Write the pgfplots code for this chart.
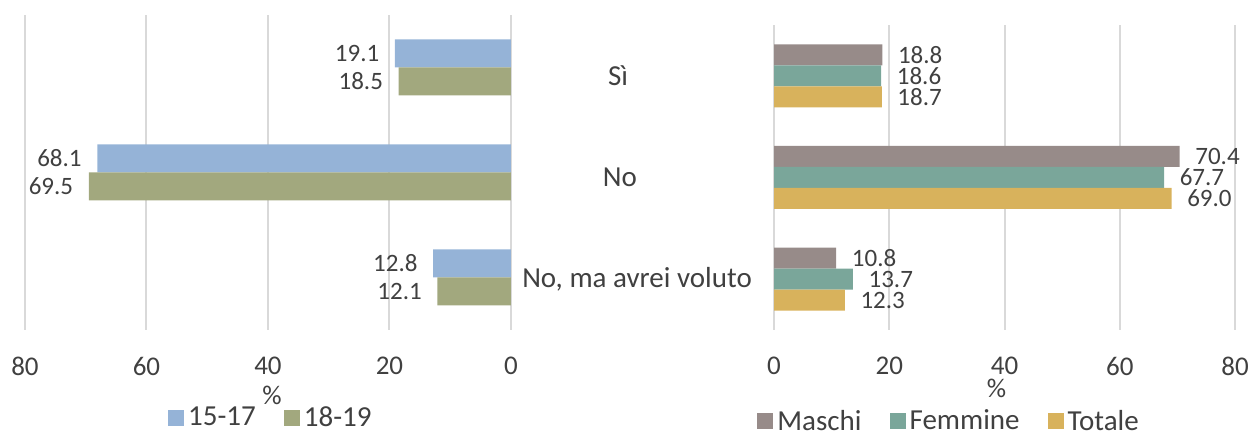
\documentclass[border=0pt]{standalone}
\usepackage{pgfplots}
\pgfplotsset{compat=1.18}
\usepackage{fontspec}
\setmainfont{Carlito}
\definecolor{cA}{RGB}{149,179,215}
\definecolor{cB}{RGB}{162,168,126}
\definecolor{cM}{RGB}{151,139,137}
\definecolor{cF}{RGB}{122,166,154}
\definecolor{cT}{RGB}{216,178,92}
\definecolor{txt}{RGB}{64,64,64}
\definecolor{grd}{RGB}{217,217,217}
\pgfplotsset{
 base/.style={
  scale only axis, xbar, xmin=0, xmax=80, ymin=-0.5, ymax=2.5,
  xtick={0,20,40,60,80}, ytick=\empty,
  xmajorgrids, major grid style={draw=grd, line width=1pt},
  axis line style={draw=none}, tick style={draw=none},
  /pgf/number format/assume math mode=true,
  ticklabel style={font=\fontsize{13.5}{16}\selectfont, text=txt},
  xticklabel style={yshift=-10pt},
  label style={font=\fontsize{13.5}{16}\selectfont, text=txt},
  xlabel={\%},
  nodes near coords={\pgfmathprintnumber[fixed,fixed zerofill,precision=1]{\pgfplotspointmeta}},
  every node near coord/.append style={font=\fontsize{12.5}{15}\selectfont, text=txt},
  legend image code/.code={\fill[##1] (0pt,-4pt) rectangle (8pt,4pt);},
  legend columns=-1,
  legend style={draw=none, fill=none, font=\fontsize{14.5}{16}\selectfont, text=txt, anchor=center,
    /tikz/every even column/.append style={column sep=12pt}},
  clip=false,
 }
}
\begin{document}
\begin{tikzpicture}
\path[use as bounding box] (0,0) rectangle (625.5pt,216pt);
% left panel
\begin{axis}[base, at={(12.5pt,51pt)}, anchor=south west,
  width=243pt, height=157.5pt, x dir=reverse, bar width=14pt,
  every node near coord/.append style={anchor=east, xshift=-4.3pt},
  xlabel style={xshift=2pt, yshift=1.5pt},
  legend style={at={(0.508,-0.279)}}]
\addplot[fill=cA, draw=none, bar shift=7pt] coordinates {(19.1,2) (68.1,1) (12.8,0)};
\addplot[fill=cB, draw=none, bar shift=-7pt] coordinates {(18.5,2) (69.5,1) (12.1,0)};
\legend{15-17, 18-19}
\end{axis}
% right panel
\begin{axis}[base, at={(387pt,51pt)}, anchor=south west,
  width=230.5pt, height=152.5pt, bar width=10.5pt,
  every node near coord/.append style={anchor=west, xshift=4.3pt},
  xlabel style={xshift=-4pt, yshift=5pt},
  legend style={at={(0.382,-0.300)}}]
\addplot[fill=cM, draw=none, bar shift=10.5pt] coordinates {(18.8,2) (70.4,1) (10.8,0)};
\addplot[fill=cF, draw=none, bar shift=0pt] coordinates {(18.6,2) (67.7,1) (13.7,0)};
\addplot[fill=cT, draw=none, bar shift=-10.5pt] coordinates {(18.7,2) (69.0,1) (12.3,0)};
\legend{Maschi, Femmine, Totale}
\node[font=\fontsize{14.5}{16}\selectfont, text=txt, xshift=-78pt] at (axis cs:0,2) {Sì};
\node[font=\fontsize{14.5}{16}\selectfont, text=txt, xshift=-77pt] at (axis cs:0,1) {No};
\node[font=\fontsize{14.5}{16}\selectfont, text=txt, xshift=-68.5pt] at (axis cs:0,0) {No, ma avrei voluto};
\end{axis}
\end{tikzpicture}
\end{document}
